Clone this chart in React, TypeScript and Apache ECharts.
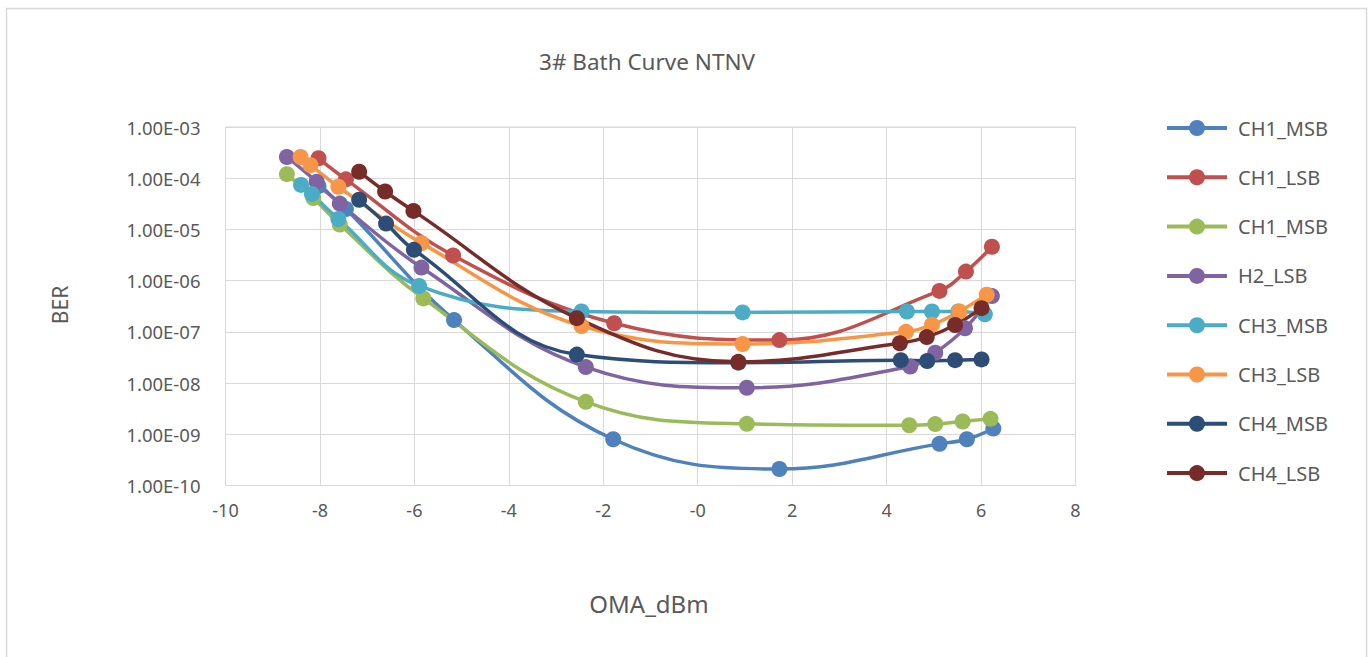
import React, { useEffect, useRef } from "react";
import * as echarts from "echarts";

const seriesNames = ["CH1_MSB", "CH1_LSB", "CH1_MSB#2", "H2_LSB", "CH3_MSB", "CH3_LSB", "CH4_MSB", "CH4_LSB"];
const seriesColors = ["#4F81BD", "#C0504D", "#9BBB59", "#8064A2", "#4BACC6", "#F79646", "#2C4D75", "#772C2A"];

const ch1MsbX = [-8.03, -7.45, -5.16, -1.79, 1.73, 5.12, 5.7, 6.26];
const ch1MsbY = [7e-5, 2.5e-5, 1.7e-7, 8e-10, 2.1e-10, 6.5e-10, 8e-10, 1.3e-9];

const ch1LsbX = [-8.03, -7.45, -5.18, -1.77, 1.73, 5.12, 5.68, 6.23];
const ch1LsbY = [2.45e-4, 9.5e-5, 3.1e-6, 1.47e-7, 6.9e-8, 6.3e-7, 1.5e-6, 4.6e-6];

const ch1Msb2X = [-8.7, -8.14, -7.58, -5.81, -2.37, 1.04, 4.48, 5.03, 5.61, 6.2];
const ch1Msb2Y = [1.2e-4, 4.1e-5, 1.25e-5, 4.5e-7, 4.3e-9, 1.6e-9, 1.5e-9, 1.58e-9, 1.78e-9, 2.0e-9];

const h2LsbX = [-8.7, -8.07, -7.58, -5.85, -2.37, 1.04, 4.5, 5.03, 5.66, 6.23];
const h2LsbY = [2.6e-4, 8.5e-5, 3.2e-5, 1.8e-6, 2.05e-8, 8.1e-9, 2.1e-8, 3.9e-8, 1.17e-7, 5.0e-7];

const ch3MsbX = [-8.4, -8.17, -7.61, -5.9, -2.46, 0.95, 4.43, 4.96, 5.52, 6.08];
const ch3MsbY = [7.4e-5, 4.9e-5, 1.6e-5, 7.9e-7, 2.5e-7, 2.4e-7, 2.5e-7, 2.5e-7, 2.5e-7, 2.2e-7];

const ch3LsbX = [-8.41, -8.2, -7.61, -5.85, -2.46, 0.95, 4.41, 4.96, 5.54, 6.12];
const ch3LsbY = [2.6e-4, 1.8e-4, 6.8e-5, 5.4e-6, 1.3e-7, 5.8e-8, 1.0e-7, 1.37e-7, 2.5e-7, 5.3e-7];

const ch4MsbX = [-7.17, -6.6, -6.01, -2.56, 0.86, 4.3, 4.86, 5.45, 6.01];
const ch4MsbY = [3.8e-5, 1.3e-5, 4.0e-6, 3.6e-8, 2.5e-8, 2.8e-8, 2.7e-8, 2.8e-8, 2.9e-8];

const ch4LsbX = [-7.17, -6.62, -6.02, -2.56, 0.86, 4.28, 4.85, 5.45, 6.01];
const ch4LsbY = [1.34e-4, 5.5e-5, 2.3e-5, 1.85e-7, 2.6e-8, 6.0e-8, 7.9e-8, 1.36e-7, 2.9e-7];

const allX = [ch1MsbX, ch1LsbX, ch1Msb2X, h2LsbX, ch3MsbX, ch3LsbX, ch4MsbX, ch4LsbX];
const allY = [ch1MsbY, ch1LsbY, ch1Msb2Y, h2LsbY, ch3MsbY, ch3LsbY, ch4MsbY, ch4LsbY];

const FONT = "'Noto Sans', sans-serif";
const TEXT = "#595959";

function fmtExp(v: number): string {
  const e = Math.round(Math.log10(v));
  const sign = e < 0 ? "-" : "+";
  const a = Math.abs(e);
  return "1.00E" + sign + (a < 10 ? "0" + a : String(a));
}

export default function App() {
  const ref = useRef<HTMLDivElement>(null);
  useEffect(() => {
    if (!ref.current) return;
    const chart = echarts.init(ref.current, undefined, { renderer: "svg" });
    const series = seriesNames.map((name, i) => ({
      name,
      type: "line",
      data: allX[i].map((x, j) => [x, allY[i][j]]),
      smooth: 0.4,
      symbol: "circle",
      symbolSize: 16,
      showSymbol: true,
      lineStyle: { width: 3.5, color: seriesColors[i] },
      itemStyle: { color: seriesColors[i] },
      emphasis: { disabled: true },
    }));
    chart.setOption({
      animation: false,
      backgroundColor: "#ffffff",
      textStyle: { fontFamily: FONT },
      grid: { left: 225.5, top: 127, width: 850, height: 358.5, show: true, borderColor: "#D9D9D9", borderWidth: 1 },
      xAxis: {
        type: "value",
        min: -10,
        max: 8,
        interval: 2,
        axisLine: { show: false },
        axisTick: { show: false },
        splitLine: { show: true, lineStyle: { color: "#D9D9D9", width: 1 } },
        axisLabel: {
          color: TEXT,
          fontSize: 18,
          fontFamily: FONT,
          margin: 15,
          formatter: (v: number) => (v === 0 ? "-0" : String(v)),
        },
      },
      yAxis: {
        type: "log",
        logBase: 10,
        min: 1e-10,
        max: 1e-3,
        interval: 1,
        axisLine: { show: false },
        axisTick: { show: false },
        splitLine: { show: true, lineStyle: { color: "#D9D9D9", width: 1 } },
        axisLabel: { color: TEXT, fontSize: 18.5, fontFamily: FONT, margin: 25, formatter: (v: number) => fmtExp(v) },
      },
      legend: {
        orient: "vertical",
        left: 1160,
        top: 113,
        itemWidth: 60,
        itemHeight: 20,
        itemGap: 29.3,
        selectedMode: false,
        lineStyle: { width: 4 },
        formatter: (n: string) => n.replace(/#\d+$/, ""),
        textStyle: { color: TEXT, fontSize: 20, fontFamily: FONT, padding: [0, 0, 0, 6] },
        data: seriesNames.map((n) => ({ name: n })),
      },
      graphic: [
        {
          type: "rect",
          silent: true,
          shape: { x: 6.5, y: 8.5, width: 1360, height: 700 },
          style: { fill: "none", stroke: "#D9D9D9", lineWidth: 1.5 },
          z: -1,
        },
        {
          type: "text",
          x: 647,
          y: 61,
          style: { text: "3# Bath Curve NTNV", fill: TEXT, font: `22.5px ${FONT}`, textAlign: "center", textVerticalAlign: "middle" },
        },
        {
          type: "text",
          x: 60,
          y: 305,
          rotation: Math.PI / 2,
          style: { text: "BER", fill: TEXT, font: `21px ${FONT}`, textAlign: "center", textVerticalAlign: "middle" },
        },
        {
          type: "text",
          x: 649,
          y: 603,
          style: { text: "OMA_dBm", fill: TEXT, font: `24px ${FONT}`, textAlign: "center", textVerticalAlign: "middle" },
        },
      ],
      series,
    });
    return () => chart.dispose();
  }, []);
  return <div ref={ref} style={{ position: "fixed", left: 0, top: 0, width: 1371, height: 657 }} />;
}
